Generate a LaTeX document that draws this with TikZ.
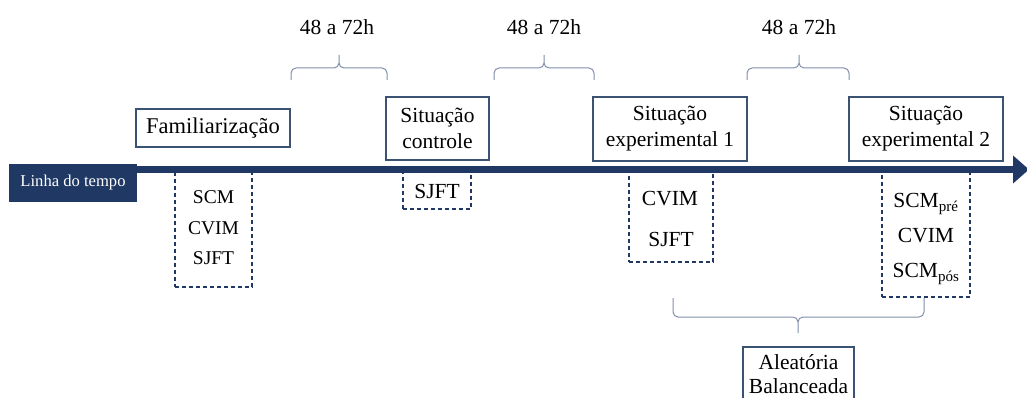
\documentclass[tikz,border=0pt]{standalone}
\usepackage{fontspec}
\setmainfont{Liberation Serif}
\usetikzlibrary{arrows.meta}
\definecolor{navy}{HTML}{1F3864}
\definecolor{boxc}{HTML}{3B5273}
\definecolor{brc}{HTML}{8090AB}
\tikzset{
  box/.style={draw=boxc, line width=1.1pt, fill=white, inner sep=0pt, align=center, font=\fontsize{21.5}{26}\selectfont},
  dbox/.style={draw=navy, line width=1.1pt, dash pattern=on 4pt off 3pt, inner sep=0pt},
  lbl/.style={inner sep=0pt, font=\fontsize{21.5}{26}\selectfont},
  slbl/.style={inner sep=0pt, font=\fontsize{19.5}{24}\selectfont},
  bracestyle/.style={draw=brc, line width=1pt, rounded corners=5pt},
}
\begin{document}
\begin{tikzpicture}[x=1pt,y=-1pt]
\clip (0,0) rectangle (1027,398);
\fill[white] (0,0) rectangle (1027,398);
% dashed boxes
\node[dbox, minimum width=77pt, minimum height=117pt] (d1) at (213.5,228.5) {};
\node[dbox, minimum width=68pt, minimum height=39pt] (d2) at (437,189.5) {};
\node[dbox, minimum width=84pt, minimum height=92pt] (d3) at (671,216) {};
\node[dbox, minimum width=88pt, minimum height=127pt] (d4) at (926,233.5) {};
% timeline
\coordinate (tstart) at (9,169.5);
\coordinate (tend) at (1029,169.5);
\draw[navy, line width=7pt, -{Triangle[length=16pt,width=27pt]}] (tstart) -- (tend);
\node[fill=navy, text=white, inner sep=0pt, minimum width=128pt, minimum height=38pt, font=\fontsize{16.6}{20}\selectfont] (lt) at (73,183) {Linha do tempo};
% main boxes
\node[box, minimum width=154pt, minimum height=38pt, font=\fontsize{22.5}{26}\selectfont] (fam) at (213,128) {Familiarização};
\node[box, minimum width=103pt, minimum height=63pt] (ctrl) at (437.5,128.5) {Situação\\controle};
\node[box, minimum width=154pt, minimum height=64pt] (exp1) at (670,129) {Situação\\experimental 1};
\node[box, minimum width=154pt, minimum height=64pt] (exp2) at (926,129) {Situação\\experimental 2};
\node[box, minimum width=111pt, minimum height=54pt, font=\fontsize{21.5}{24}\selectfont] (alea) at (798.5,374) {Aleatória\\Balanceada};
% dashed box contents
\node[slbl] (t1a) at (213.5,197) {SCM};
\node[slbl] (t1b) at (213.5,228) {CVIM};
\node[slbl] (t1c) at (213.5,258) {SJFT};
\node[lbl] (t2a) at (437,191) {SJFT};
\node[lbl] (t3a) at (670,199) {CVIM};
\node[lbl] (t3b) at (671,239) {SJFT};
\node[lbl] (t4a) at (926,204) {SCM\textsubscript{pré}};
\node[lbl] (t4b) at (926,236) {CVIM};
\node[lbl] (t4c) at (926,274) {SCM\textsubscript{pós}};
% time labels
\node[lbl] (h1) at (337,27) {48 a 72h};
\node[lbl] (h2) at (544,27) {48 a 72h};
\node[lbl] (h3) at (799,27) {48 a 72h};
% braces
\draw[bracestyle] (291,80) -- (291,68) -- (339,68) -- (339,55) (339,55) -- (339,68) -- (387,68) -- (387,80);
\draw[bracestyle] (494,80) -- (494,68) -- (544,68) -- (544,55) (544,55) -- (544,68) -- (594,68) -- (594,80);
\draw[bracestyle] (747,80) -- (747,68) -- (799,68) -- (799,55) (799,55) -- (799,68) -- (849,68) -- (849,80);
\draw[bracestyle] (673,298) -- (673,317) -- (798,317) -- (798,333) (798,333) -- (798,317) -- (924,317) -- (924,298);
\end{tikzpicture}
\end{document}
